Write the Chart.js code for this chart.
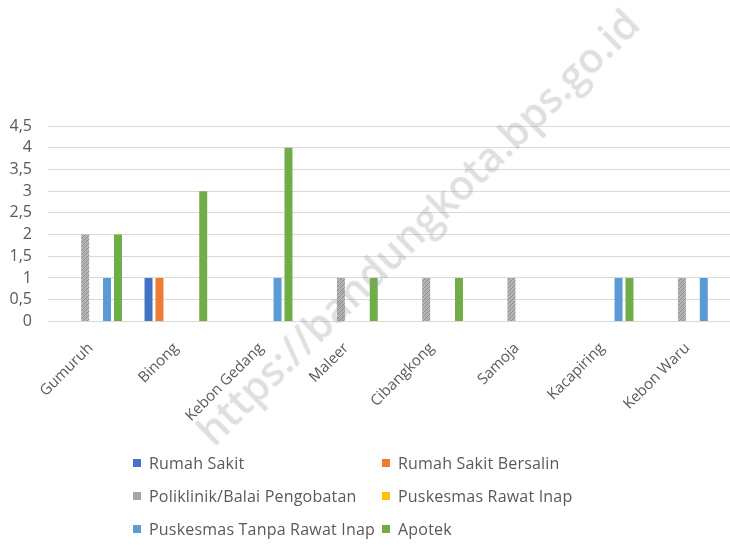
<!DOCTYPE html>
<html>
<head>
<meta charset="utf-8">
<script src="https://cdn.jsdelivr.net/npm/chart.js@4.4.0/dist/chart.umd.min.js"></script>
<style>
  body { margin: 0; background: #fff; font-family: "Open Sans", sans-serif; }
  #wrap { position: relative; width: 730px; height: 545px; overflow: hidden; }
  #chartBox { position: absolute; left: 0; top: 0; width: 730px; height: 454px; }
  #legend { position: absolute; left: 133px; top: 453px; display: grid; grid-template-columns: 249px 250px; row-gap: 13px; }
  .item { display: flex; align-items: center; font-size: 16px; color: #595959; height: 20px; white-space: nowrap; letter-spacing: 0.2px; }
  .box { width: 8px; height: 8px; margin-right: 8px; }
  #mark { position: absolute; left: 417px; top: 226px; transform: translate(-50%, -50%) rotate(-44.5deg);
          font: 600 41px "Open Sans", sans-serif; color: rgba(150,150,150,0.3); white-space: nowrap; pointer-events: none; }
</style>
</head>
<body>
<div id="wrap">
  <div id="chartBox"><canvas id="chart"></canvas></div>
  <div id="legend"></div>
  <div id="mark">https://bandungkota.bps.go.id</div>
</div>
<script>
// Data
const kelurahan = ['Gumuruh', 'Binong', 'Kebon Gedang', 'Maleer', 'Cibangkong', 'Samoja', 'Kacapiring', 'Kebon Waru'];
const rumahSakit = [0, 1, 0, 0, 0, 0, 0, 0];
const rumahSakitBersalin = [0, 1, 0, 0, 0, 0, 0, 0];
const poliklinik = [2, 0, 0, 1, 1, 1, 0, 1];
const puskesmasRawatInap = [0, 0, 0, 0, 0, 0, 0, 0];
const puskesmasTanpaRawatInap = [1, 0, 1, 0, 0, 0, 1, 1];
const apotek = [2, 3, 4, 1, 1, 0, 1, 0];
const yTicks = [0, 0.5, 1, 1.5, 2, 2.5, 3, 3.5, 4, 4.5];

// hatched grey fill for the poliklinik bars
function greyPattern() {
  let c = document.createElement('canvas');
  c.width = 4; c.height = 4;
  let g = c.getContext('2d');
  g.fillStyle = '#b4b4b4';
  g.fillRect(0, 0, 4, 4);
  g.fillStyle = '#8c8c8c';
  for (let i = 0; i < 4; i++) g.fillRect(i, 3 - i, 1, 1);
  return g.createPattern(c, 'repeat');
}

const series = [
  { label: 'Rumah Sakit', data: rumahSakit, color: '#4472c4' },
  { label: 'Rumah Sakit Bersalin', data: rumahSakitBersalin, color: '#ed7d31' },
  { label: 'Poliklinik/Balai Pengobatan', data: poliklinik, color: '#a5a5a5', fill: greyPattern() },
  { label: 'Puskesmas Rawat Inap', data: puskesmasRawatInap, color: '#ffc000' },
  { label: 'Puskesmas Tanpa Rawat Inap', data: puskesmasTanpaRawatInap, color: '#5b9bd5' },
  { label: 'Apotek', data: apotek, color: '#70ad47' }
];

const chart = new Chart(document.getElementById('chart'), {
  type: 'bar',
  data: {
    labels: kelurahan,
    datasets: series.map(s => ({
      label: s.label,
      data: s.data,
      backgroundColor: s.fill || s.color,
      categoryPercentage: 0.77,
      barPercentage: 0.73
    }))
  },
  options: {
    responsive: true,
    maintainAspectRatio: false,
    animation: false,
    layout: { padding: { top: 126, right: 0, left: 10, bottom: 19 } },
    plugins: { legend: { display: false }, tooltip: { enabled: false } },
    scales: {
      x: {
        grid: { display: false },
        border: { display: false },
        // rotated labels may hang over the left edge, like in the original
        afterFit: s => { s.paddingLeft = 0; s.paddingRight = 0; },
        ticks: {
          color: '#595959', font: { family: 'Open Sans', size: 15 },
          minRotation: 45, maxRotation: 45, padding: 10
        }
      },
      y: {
        min: 0, max: 4.5,
        afterBuildTicks: axis => { axis.ticks = yTicks.map(v => ({ value: v })); },
        afterFit: s => { s.width = 38; },
        grid: { color: '#d9d9d9', drawTicks: false },
        border: { display: false },
        ticks: {
          color: '#595959', font: { family: 'Open Sans', size: 16 }, padding: 16,
          autoSkip: false,
          callback: v => String(v).replace('.', ',')
        }
      }
    }
  }
});

// legend in two columns, as in the original
const legend = document.getElementById('legend');
series.forEach(s => {
  let item = document.createElement('div');
  item.className = 'item';
  item.innerHTML = '<span class="box" style="background:' + s.color + '"></span>' + s.label;
  legend.appendChild(item);
});
</script>
</body>
</html>
